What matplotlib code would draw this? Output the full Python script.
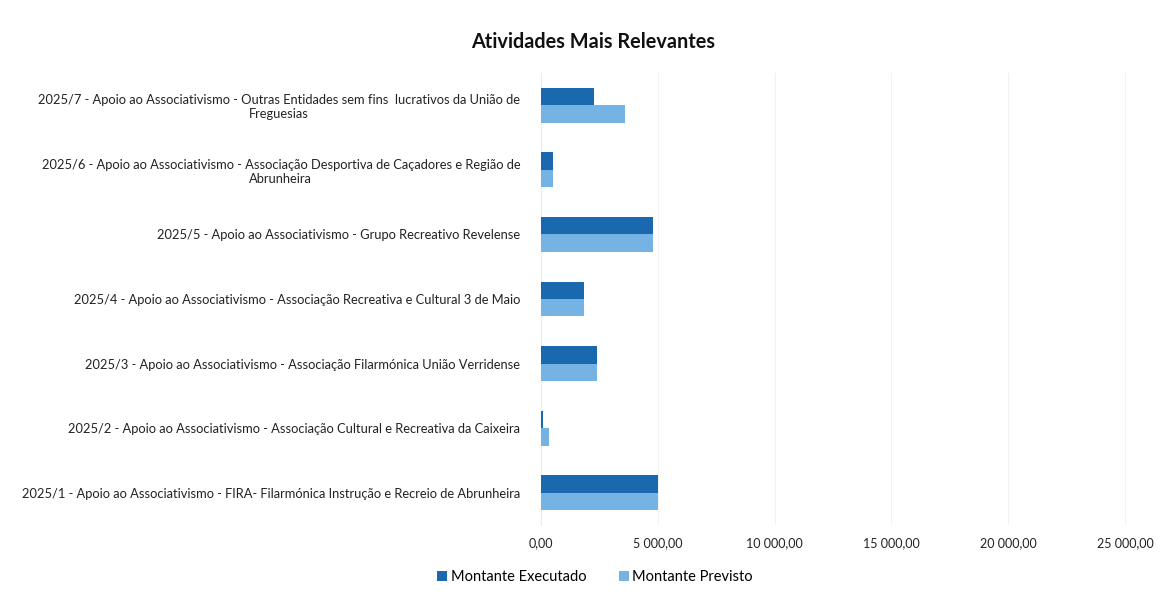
import matplotlib
matplotlib.use("Agg")
import matplotlib.pyplot as plt
import numpy as np

categories = [
    "2025/1 - Apoio ao Associativismo - FIRA- Filarmónica Instrução e Recreio de Abrunheira",
    "2025/2 - Apoio ao Associativismo - Associação Cultural e Recreativa da Caixeira",
    "2025/3 - Apoio ao Associativismo - Associação Filarmónica União Verridense",
    "2025/4 - Apoio ao Associativismo - Associação Recreativa e Cultural 3 de Maio",
    "2025/5 - Apoio ao Associativismo - Grupo Recreativo Revelense",
    "2025/6 - Apoio ao Associativismo - Associação Desportiva de Caçadores e Região de\nAbrunheira",
    "2025/7 - Apoio ao Associativismo - Outras Entidades sem fins  lucrativos da União de\nFreguesias",
]
executado = [5000, 100, 2400, 1850, 4800, 500, 2250]
previsto = [5000, 350, 2400, 1850, 4800, 500, 3600]
xticks = [0, 5000, 10000, 15000, 20000, 25000]
xticklabels = ["0,00", "5 000,00", "10 000,00", "15 000,00", "20 000,00", "25 000,00"]

plt.rcParams['font.family'] = ['Lato', 'DejaVu Sans']

fig = plt.figure(figsize=(11.62, 5.92), dpi=100)
ax = fig.add_axes([541/1162, 1 - 525/592, (1160 - 541)/1162, (525 - 73)/592])

y = np.arange(len(categories))
h = 0.27
c_exec = "#1A68AE"
c_prev = "#74B3E3"
ax.barh(y + h/2, executado, height=h, color=c_exec, label="Montante Executado", zorder=3)
ax.barh(y - h/2, previsto, height=h, color=c_prev, label="Montante Previsto", zorder=3)

ax.set_ylim(-0.5, len(categories) - 0.5)
ax.set_xlim(0, 26500)
ax.set_xticks(xticks)
ax.set_xticklabels(xticklabels, fontsize=9, color='#222222')
ax.set_yticks(y)
ax.set_yticklabels(categories, fontsize=9.3, color='#222222')
for lbl in ax.get_yticklabels():
    lbl.set_multialignment('center')
ax.tick_params(axis='x', length=0, pad=9)
ax.tick_params(axis='y', length=0, pad=15)
ax.grid(axis='x', color='#f2f2f2', linewidth=0.8, zorder=0)
for s in ['top', 'right', 'bottom']:
    ax.spines[s].set_visible(False)
ax.spines['left'].set_color('#ececec')

fig.text(593/1162, 1 - 42/592, "Atividades Mais Relevantes", ha='center', va='center',
         fontsize=14.3, fontweight='bold', color='#111111')

fig.legend(loc='center', bbox_to_anchor=(595/1162, 1 - 577/592), ncol=2, frameon=False,
           fontsize=10.5, handlelength=0.7, handleheight=0.7, handletextpad=0.25, columnspacing=2.2)

fig.savefig("out.png", dpi=100, facecolor="white")
